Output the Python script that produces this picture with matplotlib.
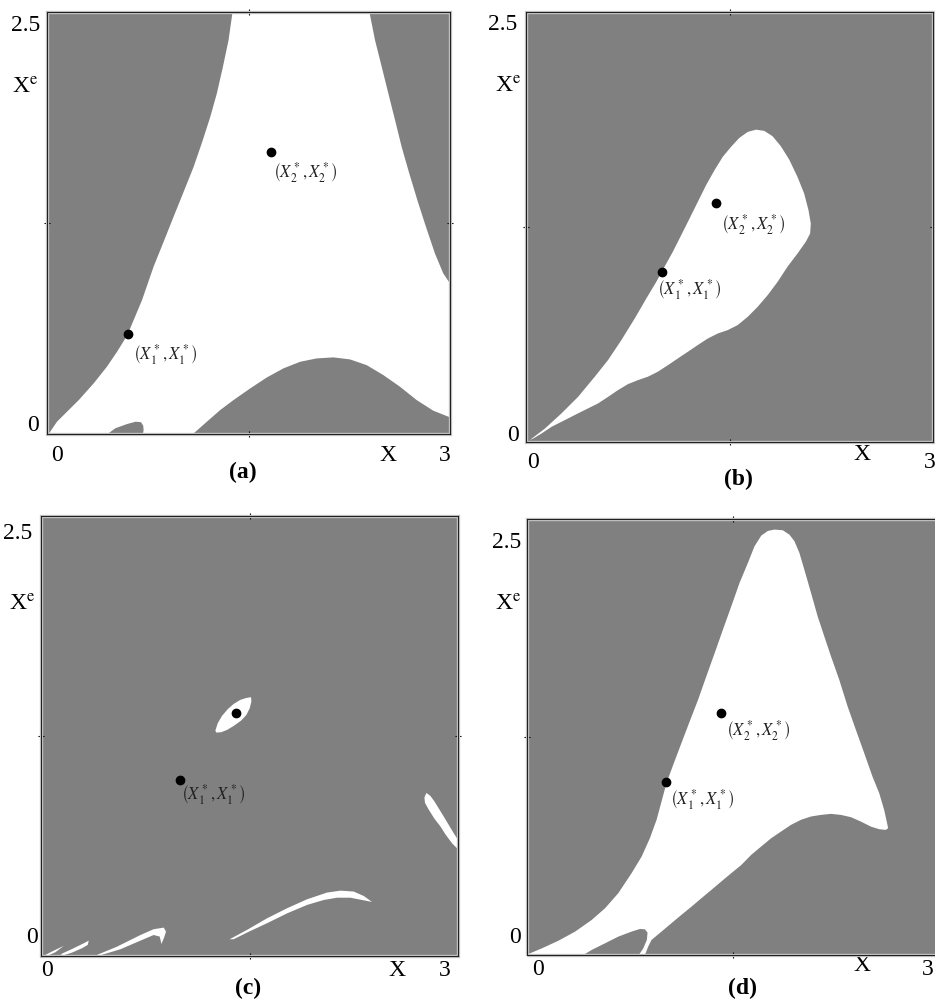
import matplotlib
matplotlib.use("Agg")
import matplotlib.pyplot as plt
from matplotlib.patches import Polygon, Rectangle

plt.rcParams["font.family"] = ["Liberation Serif", "DejaVu Serif"]
plt.rcParams["mathtext.fontset"] = "stix"

GRAY = "#808080"
WHITE = "#ffffff"
X_MAX = 3.0
Y_MAX = 2.5

# ---- panel (a): gray basins on a white background
a_left_gray = [(0.0, 2.5), (1.381, 2.500), (1.351, 2.332), (1.309, 2.174),
               (1.264, 2.017), (1.215, 1.878), (1.155, 1.730), (1.091, 1.582),
               (1.017, 1.435), (0.942, 1.287), (0.868, 1.139), (0.793, 0.991),
               (0.707, 0.793), (0.598, 0.586), (0.521, 0.487), (0.446, 0.399),
               (0.347, 0.300), (0.236, 0.201), (0.136, 0.122), (0.074, 0.073),
               (0.012, 0.0), (0.0, 0.0)]
a_right_gray = [(2.400, 2.500), (2.442, 2.332), (2.492, 2.174), (2.541, 2.017),
                (2.591, 1.859), (2.640, 1.701), (2.697, 1.543), (2.757, 1.385),
                (2.821, 1.227), (2.888, 1.069), (2.950, 0.951), (3.0, 0.892),
                (3.0, 2.5)]
a_mound_gray = [(1.086, 0.0), (1.190, 0.073), (1.289, 0.142), (1.388, 0.201),
                (1.512, 0.270), (1.636, 0.335), (1.760, 0.389), (1.884, 0.428),
                (2.008, 0.448), (2.132, 0.454), (2.256, 0.442), (2.380, 0.408),
                (2.504, 0.349), (2.628, 0.280), (2.752, 0.201), (2.876, 0.138),
                (3.0, 0.099), (3.0, 0.0)]
a_bump_gray = [(0.451, 0.0), (0.508, 0.034), (0.595, 0.059), (0.660, 0.073),
               (0.700, 0.070), (0.716, 0.050), (0.719, 0.024), (0.714, 0.0)]
a_fixed = [(0.60, 0.59), (1.67, 1.67)]

# ---- panel (b): one white basin on gray
b_basin_white = [(0.029, 0.012), (0.140, 0.079), (0.262, 0.167), (0.384, 0.263),
                 (0.507, 0.380), (0.605, 0.477), (0.703, 0.593), (0.801, 0.718),
                 (0.887, 0.835), (0.960, 0.931), (1.021, 1.019), (1.082, 1.106),
                 (1.144, 1.203), (1.205, 1.299), (1.266, 1.396), (1.327, 1.493),
                 (1.389, 1.580), (1.450, 1.658), (1.511, 1.716), (1.572, 1.768),
                 (1.634, 1.803), (1.695, 1.816), (1.756, 1.809), (1.817, 1.778),
                 (1.878, 1.720), (1.940, 1.642), (2.001, 1.541), (2.050, 1.445),
                 (2.082, 1.348), (2.099, 1.270), (2.094, 1.212), (2.062, 1.164),
                 (2.001, 1.096), (1.927, 1.019), (1.854, 0.931), (1.781, 0.854),
                 (1.707, 0.786), (1.634, 0.728), (1.560, 0.680), (1.487, 0.651),
                 (1.413, 0.631), (1.340, 0.602), (1.266, 0.564), (1.193, 0.525),
                 (1.119, 0.486), (1.046, 0.447), (0.972, 0.409), (0.899, 0.380),
                 (0.825, 0.360), (0.752, 0.337), (0.678, 0.302), (0.605, 0.263),
                 (0.532, 0.225), (0.458, 0.196), (0.384, 0.167), (0.287, 0.128),
                 (0.189, 0.089), (0.115, 0.050), (0.054, 0.021)]
b_fixed = [(1.00, 0.99), (1.40, 1.39)]

# ---- panel (c): small white islands on gray
c_eye_white = [(1.254, 1.280), (1.271, 1.322), (1.302, 1.364), (1.343, 1.402),
               (1.386, 1.432), (1.434, 1.455), (1.477, 1.466), (1.511, 1.470),
               (1.513, 1.445), (1.501, 1.407), (1.477, 1.369), (1.439, 1.337),
               (1.386, 1.307), (1.338, 1.284), (1.295, 1.271), (1.261, 1.269)]
c_sliver_white = [(2.758, 0.900), (2.772, 0.926), (2.800, 0.910), (2.830, 0.878),
                  (2.897, 0.792), (2.969, 0.697), (3.0, 0.659), (3.0, 0.606),
                  (2.957, 0.640), (2.910, 0.690), (2.873, 0.736), (2.830, 0.780),
                  (2.790, 0.830), (2.762, 0.870)]
c_arc_white = [(1.357, 0.095), (1.482, 0.148), (1.626, 0.214), (1.770, 0.271),
               (1.914, 0.322), (2.057, 0.360), (2.153, 0.371), (2.249, 0.366),
               (2.321, 0.341), (2.381, 0.307), (2.309, 0.318), (2.225, 0.331),
               (2.129, 0.331), (2.034, 0.318), (1.914, 0.290), (1.770, 0.242),
               (1.626, 0.186), (1.482, 0.133), (1.386, 0.095)]
c_hook_white = [(0.403, 0.006), (0.547, 0.053), (0.715, 0.119), (0.810, 0.152),
                (0.883, 0.161), (0.899, 0.138), (0.883, 0.100), (0.866, 0.068),
                (0.854, 0.110), (0.810, 0.119), (0.715, 0.087), (0.571, 0.038),
                (0.427, 0.004)]
c_small_white = [(0.139, 0.009), (0.235, 0.044), (0.307, 0.072), (0.343, 0.087),
                 (0.336, 0.063), (0.295, 0.044), (0.223, 0.019), (0.163, 0.004)]
c_tiny_white = [(0.031, 0.006), (0.091, 0.030), (0.163, 0.057), (0.103, 0.021),
                (0.055, 0.004)]
c_fixed = [(1.00, 1.00), (1.40, 1.38)]

# ---- panel (d): white basin with a gray bump near the bottom
d_basin_white = [(0.012, 0.006), (0.109, 0.038), (0.230, 0.082), (0.351, 0.134),
                 (0.472, 0.201), (0.569, 0.268), (0.665, 0.354), (0.762, 0.469),
                 (0.835, 0.564), (0.895, 0.669), (0.944, 0.775), (0.980, 0.880),
                 (1.016, 0.985), (1.065, 1.090), (1.125, 1.215), (1.185, 1.339),
                 (1.246, 1.463), (1.306, 1.597), (1.367, 1.731), (1.427, 1.865),
                 (1.488, 1.999), (1.548, 2.133), (1.609, 2.248), (1.657, 2.343),
                 (1.706, 2.404), (1.754, 2.431), (1.802, 2.439), (1.863, 2.435),
                 (1.911, 2.410), (1.948, 2.372), (1.984, 2.305), (2.020, 2.209),
                 (2.069, 2.075), (2.117, 1.941), (2.165, 1.827), (2.214, 1.712),
                 (2.274, 1.578), (2.335, 1.425), (2.395, 1.291), (2.456, 1.157),
                 (2.516, 1.023), (2.565, 0.928), (2.601, 0.832), (2.620, 0.765),
                 (2.630, 0.727), (2.613, 0.717), (2.565, 0.721), (2.504, 0.736),
                 (2.431, 0.765), (2.359, 0.790), (2.286, 0.803), (2.214, 0.809),
                 (2.141, 0.803), (2.069, 0.794), (1.996, 0.775), (1.923, 0.746),
                 (1.851, 0.708), (1.778, 0.669), (1.706, 0.622), (1.633, 0.574),
                 (1.561, 0.516), (1.488, 0.469), (1.415, 0.421), (1.343, 0.373),
                 (1.270, 0.325), (1.198, 0.277), (1.125, 0.230), (1.052, 0.182),
                 (0.980, 0.134), (0.907, 0.086), (0.883, 0.048), (0.859, 0.0),
                 (0.012, 0.0)]
d_bump_gray = [(0.411, 0.0), (0.472, 0.029), (0.569, 0.067), (0.665, 0.105),
               (0.762, 0.134), (0.823, 0.149), (0.859, 0.147), (0.878, 0.128),
               (0.873, 0.086), (0.847, 0.038), (0.815, 0.0)]
d_fixed = [(1.01, 0.99), (1.41, 1.39)]

LABEL_1 = r"$\left(X_1^*,X_1^*\right)$"
LABEL_2 = r"$\left(X_2^*,X_2^*\right)$"

# axes rectangles in figure fraction and text placement in axes fraction
PANELS = [
    dict(rect=[0.0503, 0.5664, 0.4310, 0.4216], bg=WHITE,
         regions=[(a_left_gray, GRAY), (a_right_gray, GRAY),
                  (a_mound_gray, GRAY), (a_bump_gray, GRAY)],
         fixed=a_fixed, labels=[(LABEL_1, (5, -20)), (LABEL_2, (2, -20))],
         tag="(a)", tag_pos=(0.486, -0.092), top=(-0.052, 0.969),
         xe=(-0.055, 0.82), y0=(-0.035, 0.021), x0=(0.025, -0.05),
         xl=(0.846, -0.05), x3=(0.988, -0.05)),
    dict(rect=[0.5626, 0.5584, 0.4353, 0.4296], bg=GRAY,
         regions=[(b_basin_white, WHITE)],
         fixed=b_fixed, labels=[(LABEL_1, (-5, -18)), (LABEL_2, (5, -22))],
         tag="(b)", tag_pos=(0.521, -0.088), top=(-0.057, 0.970),
         xe=(-0.045, 0.826), y0=(-0.032, 0.016), x0=(0.017, -0.047),
         xl=(0.826, -0.030), x3=(0.993, -0.047)),
    dict(rect=[0.0439, 0.0450, 0.4460, 0.4396], bg=GRAY,
         regions=[(c_eye_white, WHITE), (c_sliver_white, WHITE),
                  (c_arc_white, WHITE), (c_hook_white, WHITE),
                  (c_small_white, WHITE), (c_tiny_white, WHITE)],
         fixed=c_fixed, labels=[(LABEL_1, (1, -15)), (None, None)],
         tag="(c)", tag_pos=(0.496, -0.073), top=(-0.055, 0.961),
         xe=(-0.045, 0.798), y0=(-0.022, 0.043), x0=(0.014, -0.032),
         xl=(0.854, -0.032), x3=(0.969, -0.032)),
    dict(rect=[0.5636, 0.0460, 0.4406, 0.4356], bg=GRAY,
         regions=[(d_basin_white, WHITE), (d_bump_gray, GRAY)],
         fixed=d_fixed, labels=[(LABEL_1, (4, -17)), (LABEL_2, (5, -18))],
         tag="(d)", tag_pos=(0.522, -0.076), top=(-0.049, 0.945),
         xe=(-0.045, 0.803), y0=(-0.029, 0.041), x0=(0.027, -0.034),
         xl=(0.813, -0.024), x3=(0.973, -0.034)),
]

FS = 17


def draw_panel(fig, p):
    ax = fig.add_axes(p["rect"])
    ax.set_xlim(0, X_MAX)
    ax.set_ylim(0, Y_MAX)
    ax.set_facecolor(p["bg"])
    for pts, color in p["regions"]:
        ax.add_patch(Polygon(pts, closed=True, facecolor=color,
                             edgecolor="none", zorder=1))

    for (x, y), (txt, off) in zip(p["fixed"], p["labels"]):
        ax.plot(x, y, "o", color="black", markersize=6, zorder=3)
        if txt is not None:
            ax.annotate(txt, xy=(x, y), xytext=off, textcoords="offset pixels",
                        ha="left", va="center", fontsize=12, color="#202020",
                        zorder=4)

    # beveled frame: dark outer line with a light inner line
    ax.add_patch(Rectangle((0, 0), 1, 1, transform=ax.transAxes, fill=False,
                           edgecolor="#c8c8c8", linewidth=2.4, zorder=5,
                           clip_on=False))
    for spine in ax.spines.values():
        spine.set_linewidth(0.8)
        spine.set_color("#202020")
        spine.set_zorder(6)

    ax.set_xticks([X_MAX / 2])
    ax.set_yticks([Y_MAX / 2])
    ax.tick_params(direction="inout", length=4, width=0.8, top=True,
                   right=True, labelbottom=False, labelleft=False)

    tr = ax.transAxes
    kw = dict(transform=tr, ha="center", va="center", fontsize=FS)
    ax.text(*p["top"], "2.5", **kw)
    ax.text(*p["xe"], r"X$^{\mathrm{e}}$", **kw)
    ax.text(*p["y0"], "0", **kw)
    ax.text(*p["x0"], "0", **kw)
    ax.text(*p["xl"], "X", **kw)
    ax.text(*p["x3"], "3", **kw)
    ax.text(*p["tag_pos"], p["tag"], transform=tr, ha="center", va="center",
            fontsize=FS, fontweight="bold")


def main():
    fig = plt.figure(figsize=(9.35, 10.01), dpi=100)
    for p in PANELS:
        draw_panel(fig, p)
    fig.savefig("out.png", dpi=100)


if __name__ == "__main__":
    main()
